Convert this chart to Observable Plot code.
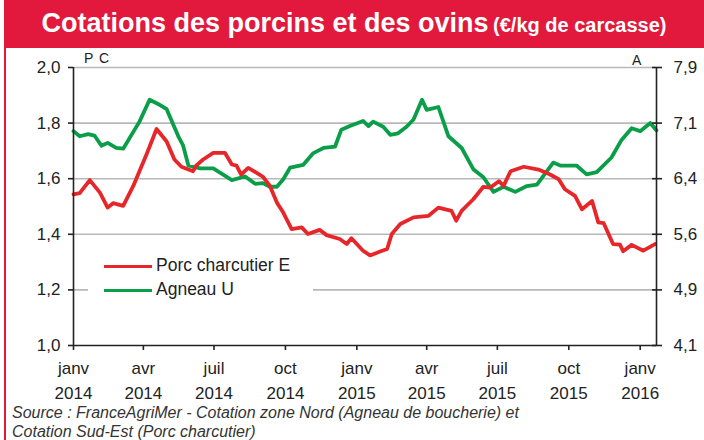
<!DOCTYPE html>
<html><head><meta charset="utf-8">
<script src="https://cdn.jsdelivr.net/npm/d3@7"></script>
<script src="https://cdn.jsdelivr.net/npm/@observablehq/plot@0.6"></script>
<style>
body{margin:0;background:#fff;font-family:"Liberation Sans",Arial,sans-serif;}
#wrap{position:relative;width:704px;height:440px;overflow:hidden;background:#fff;}
#border{position:absolute;left:4px;top:0;width:2px;height:440px;background:#e2183d;}
#banner{position:absolute;left:4px;top:0;width:700px;height:48px;background:#e2183d;color:#fff;font-weight:bold;text-align:center;line-height:46px;white-space:nowrap;}
#banner .t{font-size:27px;}
#banner .s{font-size:20px;}
#chart{position:absolute;left:0;top:48px;}
#legend{position:absolute;left:88px;top:246px;width:225px;height:56px;background:#fff;}
.li{position:absolute;left:16px;width:48px;height:3px;}
.lt{position:absolute;left:68px;font-size:17.5px;color:#222;line-height:20px;}
.ax{position:absolute;font-size:14px;color:#222;letter-spacing:1px;}
#source{position:absolute;left:12px;top:403px;font-size:16px;font-style:italic;color:#333;line-height:19px;}
</style></head>
<body><div id="wrap">
<div id="banner"><span class="t">Cotations des porcins et des ovins</span> <span class="s">(€/kg de carcasse)</span></div>
<div id="border"></div>
<div id="chart"></div>
<div class="ax" style="left:84px;top:50px;">P C</div>
<div class="ax" style="left:632px;top:52px;">A</div>
<div id="legend">
  <div class="li" style="top:19px;background:#e62629;"></div><div class="lt" style="top:9px;">Porc charcutier E</div>
  <div class="li" style="top:43px;background:#0a9e48;"></div><div class="lt" style="top:33px;">Agneau U</div>
</div>
<div id="source">Source : FranceAgriMer - Cotation zone Nord (Agneau de boucherie) et<br>Cotation Sud-Est (Porc charcutier)</div>
</div>
<script>
// Porc charcutier E (€/kg, left axis)
const porcDates = ["2014-01-01","2014-01-09","2014-01-22","2014-02-04","2014-02-14","2014-02-21","2014-03-06","2014-03-19","2014-04-05","2014-04-18","2014-05-01","2014-05-11","2014-05-20","2014-06-04","2014-06-08","2014-06-17","2014-06-30","2014-07-15","2014-07-24","2014-07-30","2014-08-05","2014-08-14","2014-08-25","2014-09-02","2014-09-11","2014-09-20","2014-09-28","2014-10-09","2014-10-22","2014-10-30","2014-11-14","2014-11-23","2014-12-10","2014-12-19","2014-12-25","2015-01-09","2015-01-18","2015-01-31","2015-02-09","2015-02-15","2015-02-26","2015-03-15","2015-04-03","2015-04-16","2015-05-03","2015-05-09","2015-05-16","2015-05-31","2015-06-13","2015-06-22","2015-07-03","2015-07-09","2015-07-18","2015-08-04","2015-08-23","2015-09-07","2015-09-18","2015-09-26","2015-10-09","2015-10-18","2015-10-31","2015-11-08","2015-11-15","2015-11-27","2015-12-06","2015-12-10","2015-12-21","2016-01-05","2016-01-20"];
const porcValues = [1.544,1.548,1.595,1.550,1.496,1.512,1.502,1.574,1.687,1.779,1.734,1.669,1.643,1.627,1.647,1.669,1.693,1.693,1.651,1.647,1.615,1.639,1.621,1.607,1.574,1.514,1.479,1.419,1.425,1.401,1.416,1.397,1.383,1.365,1.386,1.341,1.324,1.338,1.347,1.401,1.437,1.461,1.466,1.496,1.484,1.449,1.484,1.526,1.571,1.568,1.591,1.574,1.627,1.643,1.633,1.615,1.598,1.562,1.538,1.490,1.520,1.443,1.440,1.365,1.363,1.339,1.362,1.341,1.365];
// Agneau U (€/kg, right axis)
const agneauDates = ["2014-01-01","2014-01-09","2014-01-20","2014-01-28","2014-02-06","2014-02-14","2014-02-25","2014-03-06","2014-03-27","2014-04-09","2014-04-22","2014-05-01","2014-05-16","2014-05-22","2014-05-29","2014-06-13","2014-06-30","2014-07-24","2014-08-10","2014-08-23","2014-09-02","2014-09-11","2014-09-20","2014-09-28","2014-10-07","2014-10-24","2014-11-06","2014-11-19","2014-12-04","2014-12-12","2014-12-23","2015-01-09","2015-01-16","2015-01-22","2015-02-04","2015-02-13","2015-02-23","2015-03-06","2015-03-15","2015-03-26","2015-04-01","2015-04-16","2015-04-29","2015-05-16","2015-05-31","2015-06-13","2015-06-26","2015-07-09","2015-07-24","2015-08-08","2015-08-21","2015-09-11","2015-09-20","2015-10-11","2015-10-24","2015-11-06","2015-11-25","2015-12-08","2015-12-21","2016-01-01","2016-01-14","2016-01-22"];
const agneauValues = [7.03,6.96,6.99,6.97,6.83,6.87,6.80,6.79,7.16,7.46,7.39,7.33,6.96,6.84,6.56,6.52,6.52,6.36,6.41,6.31,6.32,6.27,6.27,6.37,6.53,6.57,6.73,6.80,6.82,7.05,7.10,7.17,7.10,7.16,7.09,6.98,7.00,7.09,7.19,7.46,7.32,7.36,6.96,6.80,6.51,6.40,6.20,6.27,6.20,6.28,6.30,6.60,6.56,6.56,6.44,6.47,6.67,6.91,7.07,7.03,7.14,7.04];
// axes
const leftTicks = [1.0,1.2,1.4,1.6,1.8,2.0];
const rightTickLabels = ["4,1","4,9","5,6","6,4","7,1","7,9"];
const xTickDates = ["2014-01-01","2014-04-01","2014-07-01","2014-10-01","2015-01-01","2015-04-01","2015-07-01","2015-10-01","2016-01-01"];
const monthLabels = ["janv","avr","juil","oct"];
const xDomain = ["2014-01-01","2016-01-22"];
const rightMin = 4.1, rightMax = 7.9;

const parse = d3.utcParse("%Y-%m-%d");
const porc = porcDates.map((d,i)=>({date:parse(d), v:porcValues[i]}));
const toLeft = a => 1 + (a - rightMin)/(rightMax - rightMin);
const agneau = agneauDates.map((d,i)=>({date:parse(d), v:toLeft(agneauValues[i])}));
const xTicks = xTickDates.map(parse);
const x0 = parse(xDomain[0]), x1 = parse(xDomain[1]);
const monthFmt = d => monthLabels[Math.floor(d.getUTCMonth()/3)] + "\n" + d.getUTCFullYear();

const plot = Plot.plot({
  width: 704, height: 363,
  marginTop: 19, marginLeft: 73, marginRight: 48, marginBottom: 66,
  style: {fontFamily: '"Liberation Sans", Arial, sans-serif', fontSize: "17px", color: "#222", background: "transparent"},
  x: {type: "utc", domain: [x0, x1]},
  y: {domain: [1, 2]},
  marks: [
    Plot.ruleY(leftTicks.slice(1), {stroke: "#b8b8b8", strokeWidth: 1.6}),
    Plot.line(agneau, {x: "date", y: "v", stroke: "#0a9e48", strokeWidth: 3.8}),
    Plot.line(porc, {x: "date", y: "v", stroke: "#e62629", strokeWidth: 3.8}),
    Plot.ruleX([x0, x1], {stroke: "#222", strokeWidth: 1.6}),
    Plot.ruleY([1], {stroke: "#222", strokeWidth: 1.6}),
    Plot.axisY({ticks: leftTicks, tickSize: 5, tickPadding: 8, tickFormat: d => d.toFixed(1).replace(".", ","), label: null, stroke: "#222", strokeWidth: 1.6, fontSize: 17}),
    Plot.axisY({anchor: "right", ticks: leftTicks, tickSize: 5, tickPadding: 12, tickFormat: (d,i) => rightTickLabels[i], label: null, stroke: "#222", strokeWidth: 1.6, fontSize: 17}),
    Plot.axisY({anchor: "right", ticks: leftTicks, tickSize: 5, dx: -5, text: null, label: null, stroke: "#222", strokeWidth: 1.6}),
    Plot.axisX({ticks: xTicks, tickSize: 5, tickPadding: 5, tickFormat: monthFmt, label: null, stroke: "#222", strokeWidth: 1.6, fontSize: 17, lineHeight: 1.5})
  ]
});
document.getElementById("chart").appendChild(plot);
</script>
</body></html>
